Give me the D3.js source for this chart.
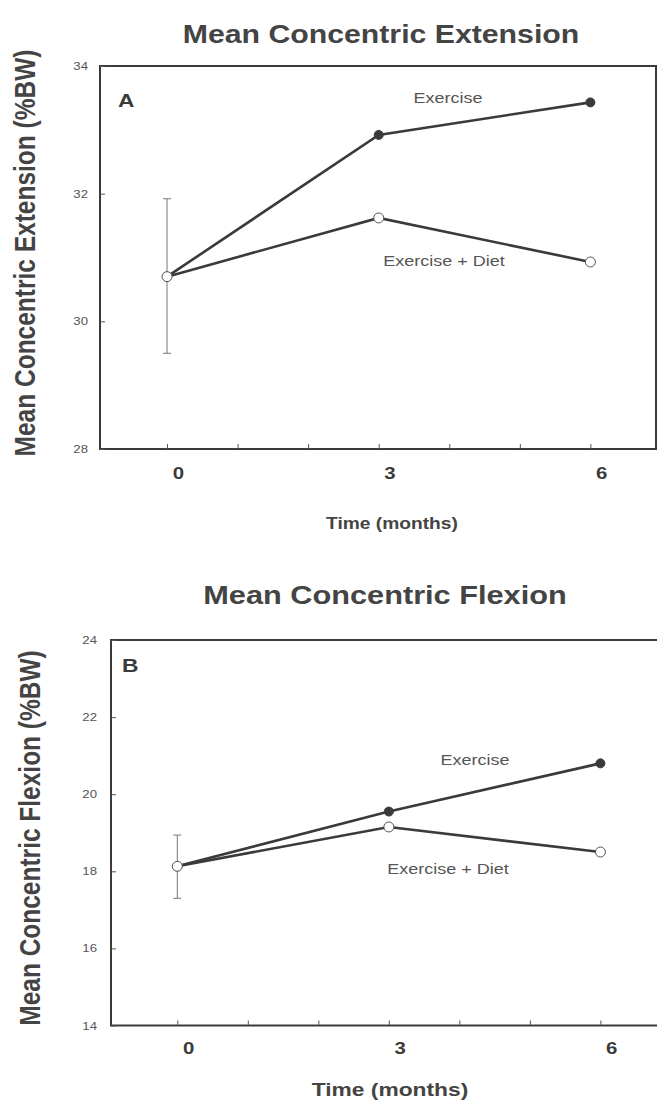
<!DOCTYPE html>
<html>
<head>
<meta charset="utf-8">
<script src="https://cdn.jsdelivr.net/npm/d3@7"></script>
<style>
  html, body { margin: 0; padding: 0; background: #fff; }
  svg { display: block; }
  text { font-family: "Liberation Sans", Arial, Helvetica, sans-serif; }
</style>
</head>
<body>
<svg id="chart" width="657" height="1106"></svg>
<script>
// ---- data ----
const months = [0, 3, 6];
const minorTicks = [0, 1, 2, 3, 4, 5, 6];
const extExercise = [30.7, 32.92, 33.43];
const extExerciseDiet = [30.7, 31.62, 30.93];
const extErrorAt0 = [29.5, 31.92];
const extTicks = [28, 30, 32, 34];

const flexExercise = [18.13, 19.55, 20.8];
const flexExerciseDiet = [18.13, 19.15, 18.5];
const flexErrorAt0 = [17.3, 18.94];
const flexTicks = [14, 16, 18, 20, 22, 24];

const titles = ["Mean Concentric Extension", "Mean Concentric Flexion"];
const yTitles = ["Mean Concentric Extension (%BW)", "Mean Concentric Flexion (%BW)"];
const xTitle = "Time (months)";
const seriesNames = ["Exercise", "Exercise + Diet"];
const panelLetters = ["A", "B"];

// ---- drawing ----
const svg = d3.select("#chart");
const SX = 1.2; // horizontal stretch of the scanned figure
const ink = "#3a3a3a";

function stext(g, x, y, str, opts) {
  return g.append("text")
    .attr("transform", opts.rotate
      ? `translate(${x},${y}) rotate(-90) scale(1,${SX})`
      : `translate(${x},${y}) scale(${SX},1)`)
    .attr("text-anchor", opts.anchor || "middle")
    .attr("font-size", opts.size)
    .attr("font-weight", opts.weight || "normal")
    .attr("fill", opts.fill || ink)
    .text(str);
}

function stretchAxisText(sel) {
  sel.selectAll("text").each(function () {
    const x = +this.getAttribute("x") || 0;
    const y = +this.getAttribute("y") || 0;
    d3.select(this).attr("x", 0).attr("y", 0)
      .attr("transform", `translate(${x},${y}) scale(${SX},1)`);
  });
}

function panel(cfg) {
  const g = svg.append("g");
  const x = d3.scaleLinear().domain(cfg.xDomain).range(cfg.xRange);
  const y = d3.scaleLinear().domain(cfg.yDomain).range(cfg.yRange);

  // box
  g.append("rect")
    .attr("x", cfg.xRange[0]).attr("y", cfg.yRange[1])
    .attr("width", cfg.xRange[1] - cfg.xRange[0])
    .attr("height", cfg.yRange[0] - cfg.yRange[1])
    .attr("fill", "none").attr("stroke", ink).attr("stroke-width", 2);

  // x axis
  const xa = g.append("g").attr("transform", `translate(0,${cfg.yRange[0]})`)
    .call(d3.axisBottom(x).tickValues(minorTicks).tickSize(-5)
      .tickPadding(cfg.xPad)
      .tickFormat(d => months.includes(d) ? String(d) : ""));
  xa.select(".domain").remove();
  xa.selectAll("line").attr("stroke", "#555").attr("stroke-width", 1);
  xa.selectAll("text").attr("font-size", cfg.xTickSize).attr("font-weight", "bold")
    .attr("fill", "#3a3a3a").attr("dx", 9)
    .style("font-family", '"Liberation Sans", Arial, sans-serif');
  stretchAxisText(xa);

  // y axis
  const ya = g.append("g").attr("transform", `translate(${cfg.xRange[0]},0)`)
    .call(d3.axisLeft(y).tickValues(cfg.yTicks).tickSize(-5)
      .tickPadding(cfg.yPad).tickFormat(d3.format("d")));
  ya.select(".domain").remove();
  ya.selectAll("line").attr("stroke", "#555").attr("stroke-width", 1);
  ya.selectAll("text").attr("font-size", 11).attr("fill", "#555")
    .style("font-family", '"Liberation Sans", Arial, sans-serif');
  stretchAxisText(ya);

  // error bar at month 0
  const ex = x(0), capW = 4;
  g.append("line").attr("x1", ex).attr("x2", ex)
    .attr("y1", y(cfg.err[0])).attr("y2", y(cfg.err[1]))
    .attr("stroke", "#777").attr("stroke-width", 1);
  cfg.err.forEach(v => g.append("line")
    .attr("x1", ex - capW).attr("x2", ex + capW)
    .attr("y1", y(v)).attr("y2", y(v))
    .attr("stroke", "#777").attr("stroke-width", 1));

  const line = d3.line().x((d, i) => x(months[i])).y(d => y(d));
  [cfg.ed, cfg.ex].forEach(s => g.append("path").datum(s)
    .attr("d", line).attr("fill", "none")
    .attr("stroke", ink).attr("stroke-width", 2.6));

  // markers
  g.selectAll(null).data(cfg.ex).join("circle")
    .attr("cx", (d, i) => x(months[i])).attr("cy", d => y(d)).attr("r", 4.5)
    .attr("fill", ink).attr("stroke", ink).attr("stroke-width", 1);
  g.selectAll(null).data(cfg.ed).join("circle")
    .attr("cx", (d, i) => x(months[i])).attr("cy", d => y(d)).attr("r", 5)
    .attr("fill", "#fff").attr("stroke", "#555").attr("stroke-width", 1);

  // texts
  stext(svg, cfg.titleX, cfg.titleY, cfg.title, { size: cfg.titleSize, weight: "bold", fill: "#444" });
  stext(svg, cfg.yTitleX, cfg.yTitleY, cfg.yTitle, { size: 24.5, weight: "bold", rotate: true, fill: "#444" });
  stext(svg, cfg.xTitleX, cfg.xTitleY, xTitle, { size: cfg.xTitleSize, weight: "bold", fill: "#444" });
  stext(g, cfg.letterX, cfg.letterY, cfg.letter, { size: 19, weight: "bold", anchor: "start" });
  stext(g, cfg.lab1[0], cfg.lab1[1], seriesNames[0], { size: 15, fill: "#555" });
  stext(g, cfg.lab2[0], cfg.lab2[1], seriesNames[1], { size: 15, fill: "#555" });
}

panel({
  xDomain: [-0.95, 6.93], xRange: [100, 656],
  yDomain: [28, 34], yRange: [449, 66],
  yTicks: extTicks, xPad: 18, yPad: 12, xTickSize: 17,
  err: extErrorAt0, ex: extExercise, ed: extExerciseDiet,
  title: titles[0], titleX: 381, titleY: 43, titleSize: 25.2,
  yTitle: yTitles[0], yTitleX: 35, yTitleY: 253,
  xTitleX: 392, xTitleY: 529, xTitleSize: 16,
  letter: panelLetters[0], letterX: 118, letterY: 107,
  lab1: [448, 103], lab2: [444, 266]
});

panel({
  xDomain: [-0.94, 6.93], xRange: [111, 666],
  yDomain: [14, 24], yRange: [1025.5, 640],
  yTicks: flexTicks, xPad: 16, yPad: 14, xTickSize: 17,
  err: flexErrorAt0, ex: flexExercise, ed: flexExerciseDiet,
  title: titles[1], titleX: 385, titleY: 604, titleSize: 25.6,
  yTitle: yTitles[1], yTitleX: 40, yTitleY: 838,
  xTitleX: 390, xTitleY: 1096, xTitleSize: 19,
  letter: panelLetters[1], letterX: 122, letterY: 672,
  lab1: [475, 765], lab2: [448, 874]
});
</script>
</body>
</html>
